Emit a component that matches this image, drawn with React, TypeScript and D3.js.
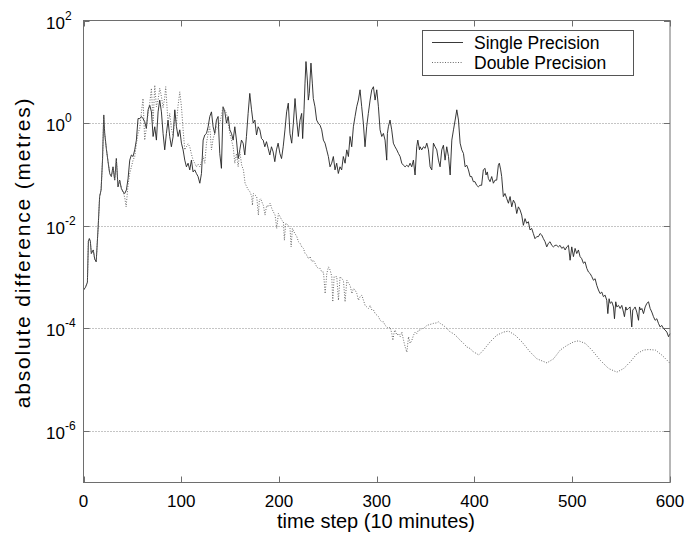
import React from "react";
import * as d3 from "d3";

// x axis ticks (time step, 10 minutes) and y axis decades shown as labels
const xTicks = [0, 100, 200, 300, 400, 500, 600];
const yTickExponents = [2, 0, -2, -4, -6];
const gridExponents = [0, -2, -4, -6];
const seriesNames = ["Single Precision", "Double Precision"];

// [time step, log10(absolute difference in metres)]
const singlePrecision: [number, number][] = [
  [0, -3.25], [2, -3.2], [4, -3.1], [5, -2.3], [6, -2.25], [7, -2.3], [8, -2.54], [10, -2.47], [11.5, -2.65], [13, -2.7],
  [15, -2.02], [16.5, -1.43], [18, -1.3], [19.5, -0.7], [20.7, 0.16], [21.7, -0.2], [23.4, -0.5], [25.1, -0.75], [26.8, -0.98],
  [28.5, -1.04], [30.2, -0.85], [31.9, -1.11], [33.6, -0.69], [35.3, -1.24], [37, -1.11], [38.7, -1.27], [40.5, -1.34],
  [42.2, -1.37], [43.9, -1.3], [45.6, -1.08], [47.3, -0.72], [49, -0.62], [50.7, -0.65], [52.4, -0.52], [54.1, -0.33],
  [55.8, 0.09], [57.5, 0.09], [59.2, 0.13], [60.9, 0.09], [62.6, 0.03], [64.3, -0.1], [66.1, 0.26], [67.8, 0.35], [69.5, 0.22],
  [71.2, -0.26], [72.9, -0.07], [74.6, -0.33], [76.3, 0.22], [78, 0.45], [79.7, 0.22], [81.4, -0.2], [83.1, -0.52], [84.8, -0.2],
  [86.5, 0.06], [88.2, -0.26], [89.9, -0.46], [91.7, -0.26], [93.4, 0.26], [95.1, -0.07], [96.8, -0.26], [98.5, -0.13],
  [100.2, -0.39], [101.9, -0.52], [103.6, -0.72], [105.3, -0.85], [107, -0.78], [108.7, -0.91], [110.4, -0.72], [112.1, -0.95],
  [113.8, -0.91], [115.5, -0.98], [117.2, -1.04], [119, -1.17], [120.7, -0.98], [122.4, -0.33], [124.1, -0.23], [125.8, -0.2],
  [127.5, -0.07], [129.2, 0.13], [130.9, 0.22], [132.6, -0.07], [134.3, -0.2], [136, 0.06], [137.7, 0.13], [139.4, -0.59],
  [141.1, -0.88], [142.8, 0.32], [144.6, 0.22], [146.3, 0], [148, 0.13], [149.7, -0.13], [151.4, -0.2], [153.1, -0.33],
  [154.8, -0.07], [156.5, -0.33], [158.2, -0.69], [159.9, -0.52], [161.6, -0.33], [163.3, -0.39], [165, -0.62], [166.7, -0.26],
  [168.4, 0.19], [170.1, 0.58], [171.9, 0.26], [173.6, 0], [175.3, 0.06], [177, -0.23], [178.7, -0.07], [180.4, -0.13],
  [182.1, -0.3], [183.8, -0.33], [185.5, -0.46], [187.2, -0.36], [188.9, -0.49], [190.6, -0.62], [192.3, -0.46], [194, -0.56],
  [195.7, -0.75], [197.4, -0.52], [199.1, -0.39], [200.9, -0.59], [202.6, -0.69], [204.3, -0.46],
  [206.1, -0.13], [207.8, 0.22], [209.5, 0.39], [211.2, -0.2], [213, -0.39], [214.7, 0.0], [216.4, 0.48], [218.1, 0.06],
  [219.8, -0.26], [221.5, 0.06], [223.2, 0.19], [224.2, -0.3], [225.6, 0.26], [226.6, 0.78], [227.6, 1.2], [229, 0.84],
  [230, 0.45], [231, 0.58], [232.7, 1.17], [234.1, 0.78], [235.1, 0.48], [236.8, 0.32], [238.5, 0.06], [240.2, 0.0],
  [242, -0.04], [243.7, -0.13], [245.4, -0.33], [247.1, -0.39], [248.8, -0.52], [250.5, -0.65], [252.2, -0.85], [253.9, -0.78],
  [255.6, -0.65], [257.3, -0.91], [259, -0.78], [260.7, -0.98], [262.4, -0.85], [264.1, -0.91], [265.8, -0.65], [267.6, -0.78],
  [269.3, -0.52], [271, -0.65], [272.7, -0.26], [274.4, -0.46], [276.1, -0.07], [277.8, 0.13], [279.5, 0.32], [281.2, 0.45],
  [282.9, 0.65], [284.6, 0.32], [286.3, 0.0], [288, -0.46], [289.7, -0.07], [291.4, 0.19], [293.2, 0.45], [294.9, 0.65],
  [296.6, 0.71], [298.3, 0.45], [300, 0.65], [301.7, 0.32], [303.4, -0.13], [305.1, -0.26], [306.8, -0.2], [308.5, -0.33],
  [310.2, -0.72], [310.9, -0.2], [311.9, -0.07], [313.6, 0.06], [315.3, -0.13], [317, -0.39], [318.7, -0.46], [320.5, -0.52],
  [322.2, -0.59], [323.9, -0.65], [325.6, -0.78], [327.3, -0.82], [329, -0.85], [330.7, -0.82], [332.4, -0.85], [334.1, -0.78],
  [335.8, -0.85], [337.5, -0.72], [339.2, -1.01], [340.9, -0.46], [342, -0.33], [343.7, -0.52], [344.3, -0.46], [346, -0.52],
  [347.8, -0.46], [349.5, -0.49], [351.2, -0.39], [352.9, -0.52], [354.6, -0.85], [356.3, -0.91], [358, -0.39], [359.7, -0.46],
  [361.4, -0.52], [363.1, -0.72], [364.8, -0.85], [366.5, -0.52], [368.2, -0.43], [369.9, -0.72], [371.6, -0.46], [373.4, -0.65],
  [375.1, -1.01], [376.8, -0.33], [378.5, -0.13], [380.2, 0.06], [381.9, 0.26], [383.6, 0.06], [385.3, -0.39], [387, -0.52],
  [388.7, -0.59], [390.4, -0.85], [392.1, -0.82], [393.8, -0.91], [395.5, -1.04],
  [397.1, -1.04], [398.8, -1.14], [400.5, -1.14], [402.2, -1.21], [403.9, -1.24], [405.6, -1.21], [407.3, -1.21], [409, -0.91],
  [410.8, -0.88], [411.8, -1.01], [413.1, -0.95], [414.2, -1.08], [415.9, -1.14], [417.6, -1.04], [419.3, -1.17], [421, -1.11],
  [422.7, -1.11], [424.4, -0.82], [425.4, -0.78], [426.8, -0.91], [427.8, -1.04], [429.5, -1.43], [431.2, -1.37], [433, -1.47],
  [434.7, -1.56], [436.4, -1.43], [438.1, -1.63], [439.8, -1.5], [441.5, -1.56], [443.2, -1.76], [444.9, -1.63], [446.6, -1.69],
  [448.3, -1.79], [450, -1.99], [451.7, -1.86], [453.4, -1.95], [455.1, -1.92], [456.8, -2.08], [458.5, -2.05], [460.2, -2.15],
  [461.9, -2.25], [463.7, -2.21], [465.4, -2.21], [467.1, -2.15], [468.8, -2.18], [470.5, -2.25], [472.2, -2.31], [473.9, -2.41],
  [475.6, -2.34], [477.3, -2.31], [479, -2.38], [480.7, -2.41], [482.4, -2.38], [484.1, -2.38], [485.8, -2.41], [487.5, -2.38],
  [489.3, -2.44], [491, -2.41], [492.7, -2.47], [494.4, -2.41], [496.1, -2.38], [497.8, -2.67], [499.5, -2.41], [501.2, -2.6],
  [502.9, -2.44], [504.6, -2.54], [506.3, -2.47], [508, -2.6], [509.7, -2.64], [511.4, -2.73], [513.1, -2.7], [514.9, -2.83],
  [516.6, -2.9], [518.3, -2.93], [520, -2.99], [521.7, -3.06], [523.4, -3.03], [525.1, -3.16], [526.8, -3.25], [528.5, -3.32],
  [530.2, -3.29], [531.9, -3.38], [533.6, -3.35], [535.3, -3.45], [536.4, -3.71], [537.7, -3.42], [538.7, -3.51], [540.5, -3.48],
  [542.2, -3.58], [543.2, -3.81], [544.5, -3.48], [545.6, -3.58], [547.3, -3.55], [549, -3.61], [550.7, -3.55], [552.4, -3.68],
  [553.4, -3.77], [554.8, -3.58], [555.8, -3.64], [557.5, -3.61], [559.2, -3.58], [560.9, -3.97], [561.9, -3.64], [563.3, -3.61],
  [564.3, -3.58], [566, -3.68], [567.8, -3.84], [568.8, -3.58], [570.1, -3.64], [571.2, -3.61], [572.9, -3.71], [574.6, -3.58],
  [576.3, -3.51], [578, -3.48], [579.7, -3.61], [581.4, -3.68], [583.1, -3.77], [584.8, -3.84], [586.5, -3.81], [588.2, -3.9],
  [589.9, -3.97], [591.6, -3.94], [593.3, -4.0], [595, -4.03], [596.8, -4.07], [598.5, -4.16], [600, -4.1],
];

const doublePrecision: [number, number][] = [
  [0, -3.25], [2, -3.2], [4, -3.1], [5, -2.3], [6, -2.25], [7, -2.3], [8, -2.54], [10, -2.47], [11.5, -2.65], [13, -2.7],
  [15, -2.02], [16.5, -1.43], [18, -1.3], [19.5, -0.7], [20.7, 0.16], [21.7, -0.2], [23.4, -0.5], [25.1, -0.75], [26.8, -0.98],
  [28.5, -1.04], [30.2, -0.85], [31.9, -1.11], [33.6, -0.69], [35.3, -1.24], [37, -1.11], [38.7, -1.27], [40.5, -1.34],
  [42.2, -1.45], [43.6, -1.63], [45.6, -1.2], [47.3, -0.98], [49, -0.85], [50.7, -0.72], [52.4, -0.65], [54.1, -0.4],
  [55.8, -0.2], [57.5, -0.1], [59.2, 0.2], [60.9, 0.48], [62.6, -0.33], [64.3, -0.1], [66.1, 0.2], [67.8, 0.4], [69.5, 0.68],
  [71.2, 0.0], [72.9, 0.74], [74.6, 0.32], [76.3, 0.45], [78, 0.68], [79.7, 0.52], [81.4, 0.3], [83.1, 0.5], [84.1, 0.71],
  [86.5, 0.0], [88.2, 0.19], [89.9, -0.1], [91.7, -0.26], [93.4, 0.1], [95.1, 0.0], [96.8, 0.35], [98.5, 0.61], [100.2, 0.32],
  [101.9, -0.13], [103.6, -0.52], [105.3, -0.46], [107, -0.4], [108.7, -0.46], [110.4, -0.6], [112.1, -0.72], [113.8, -0.78],
  [115.5, -0.85], [117.2, -0.8], [119, -0.85], [120.7, -0.75], [122.4, -0.65], [124.1, -0.78], [125.8, -0.39], [127.5, -0.2],
  [129.2, -0.07], [130.9, -0.52], [132.6, -0.3], [134.3, -0.2], [136, -0.07], [137.7, -0.1], [139.4, 0.0], [141.1, 0.15],
  [142.8, 0.32], [144.6, 0.25], [146.3, 0.19], [148, 0.0], [149.7, -0.2], [151.4, -0.33], [153.1, -0.46], [154.8, -0.78],
  [156.5, -0.59], [158.2, -0.85], [159.9, -0.55], [161.8, -0.82], [163.6, -0.91], [165.3, -1.17], [167, -1.24], [168.7, -1.3],
  [170.4, -1.34], [172.1, -1.43], [172.8, -1.6], [173.8, -1.37], [175.5, -1.4], [177.2, -1.43], [178.9, -1.79], [179.9, -1.5],
  [181.3, -1.47], [183, -1.56], [184, -1.6], [185.7, -1.79], [187.4, -1.6], [189.1, -1.63], [190.9, -1.56], [192.6, -1.66],
  [194.3, -1.73], [196, -1.79], [197.7, -2.05], [199.4, -1.76], [201.1, -1.82], [202.8, -1.89], [204.5, -1.92], [205.5, -2.28],
  [206.9, -1.95], [209.6, -1.99], [211.3, -2.05], [212.4, -2.41], [213.7, -2.05], [215.4, -2.12], [218.2, -2.21], [219.9, -2.31],
  [221.6, -2.34], [223.3, -2.41], [225, -2.44], [226.7, -2.54], [228.4, -2.57], [230.1, -2.64], [231.8, -2.6], [233.5, -2.7],
  [235.2, -2.67], [236.9, -2.73], [238.6, -2.8], [240.3, -2.83], [242.1, -2.83], [243.8, -2.9], [245.5, -2.9], [247.2, -3.32],
  [248.9, -2.93], [250.6, -2.8], [252.3, -2.86], [254, -2.99], [255, -3.48], [256.4, -2.99], [259.1, -2.99], [260.8, -3.45],
  [262.5, -2.99], [264.2, -3.03], [265.9, -3.06], [267.6, -3.48], [269.4, -3.06], [271.1, -3.12], [272.8, -3.16], [274.5, -3.32],
  [276.2, -3.22], [277.9, -3.25], [279.6, -3.32], [281.3, -3.45], [283, -3.38], [284.7, -3.35], [286.4, -3.45], [288.1, -3.55],
  [289.8, -3.58], [291.5, -3.61], [293.2, -3.55], [295, -3.64], [296.7, -3.64], [298.4, -3.71], [300.1, -3.74], [301.8, -3.77],
  [303.5, -3.84], [305.2, -3.87], [306.9, -3.87], [308.6, -3.94], [310.3, -3.97], [312, -4.0], [313.7, -3.97], [315.4, -4.1],
  [316.5, -4.23], [317.8, -4.07], [318.8, -4.03], [320.5, -4.13], [322.3, -4.1], [324, -4.16], [325.7, -4.07], [327.4, -4.23],
  [329.1, -4.36], [330.8, -4.46], [332.5, -4.16], [334.2, -4.29], [335.9, -4.23], [337.6, -4.13], [339.3, -4.07], [341, -4.1],
  [342.7, -4.03], [344.4, -4.03], [346.1, -4.0], [347.8, -4.0], [349.6, -3.97], [351.3, -3.94], [354.7, -3.92], [358.1, -3.9],
  [361.5, -3.89], [363.2, -3.87], [364.9, -3.9], [368.3, -3.94], [371.7, -4.0], [375.2, -4.07], [378.6, -4.1], [382, -4.16],
  [385.4, -4.23], [388.8, -4.29], [392.2, -4.36], [395.6, -4.39], [399.1, -4.46], [402.5, -4.49], [404.1, -4.52], [409.2, -4.42],
  [416, -4.26], [422.9, -4.13], [429.7, -4.07], [434.8, -4.05], [441.6, -4.13], [448.5, -4.26], [457, -4.46], [463.8, -4.59],
  [474.1, -4.67], [480.9, -4.59], [487.7, -4.42], [494.5, -4.33], [501.4, -4.26], [506.5, -4.24], [513.3, -4.29], [520.1, -4.42],
  [528.7, -4.62], [537.2, -4.78], [545.7, -4.85], [552.6, -4.78], [559.4, -4.65], [566.2, -4.49], [573, -4.42], [578.2, -4.41],
  [585, -4.42], [591.8, -4.52], [598.6, -4.65], [600, -4.68],
];

const FONT = "Arial, 'Liberation Sans', Helvetica, sans-serif";

export default function App() {
  const W = 688;
  const H = 541;
  const plot = { left: 83.5, right: 670, top: 20.5, bottom: 482.5 };
  const x = d3.scaleLinear().domain([0, 600]).range([plot.left, plot.right]);
  const y = d3.scaleLog().domain([1e-7, 1e2]).range([plot.bottom, plot.top]);
  const line = d3
    .line<[number, number]>()
    .x((d) => x(d[0]))
    .y((d) => y(Math.pow(10, d[1])));

  const tickLen = 6;
  const frame = "#6e6e6e";

  return (
    <svg
      width={W}
      height={H}
      viewBox={`0 0 ${W} ${H}`}
      style={{ position: "absolute", left: 0, top: 0, background: "#fff" }}
      fontFamily={FONT}
    >
      <rect x={0} y={0} width={W} height={H} fill="#fff" />
      {/* grid */}
      {gridExponents.map((e) => (
        <line
          key={"g" + e}
          x1={plot.left}
          x2={plot.right}
          y1={Math.round(y(Math.pow(10, e))) + 0.5}
          y2={Math.round(y(Math.pow(10, e))) + 0.5}
          stroke="#8a8a8a"
          strokeWidth={1}
          strokeDasharray="1,2"
        />
      ))}
      {/* data */}
      <path d={line(singlePrecision) || ""} fill="none" stroke="#222" strokeWidth={0.9} strokeLinejoin="round" />
      <path d={line(doublePrecision) || ""} fill="none" stroke="#6a6a6a" strokeWidth={1} strokeDasharray="1,1.6" />
      {/* frame */}
      <rect
        x={plot.left}
        y={plot.top}
        width={plot.right - plot.left}
        height={plot.bottom - plot.top}
        fill="none"
        stroke={frame}
        strokeWidth={1}
      />
      {/* x ticks */}
      {xTicks.map((t) => {
        const px = Math.round(x(t)) + 0.5;
        return (
          <g key={"x" + t}>
            <line x1={px} x2={px} y1={plot.bottom} y2={plot.bottom - tickLen} stroke={frame} />
            <line x1={px} x2={px} y1={plot.top} y2={plot.top + tickLen} stroke={frame} />
            <text x={x(t)} y={507} fontSize={17} textAnchor="middle" fill="#000">
              {t}
            </text>
          </g>
        );
      })}
      {/* y ticks */}
      {yTickExponents.map((e) => {
        const py = Math.round(y(Math.pow(10, e))) + 0.5;
        return (
          <g key={"y" + e}>
            <line x1={plot.left} x2={plot.left + tickLen} y1={py} y2={py} stroke={frame} />
            <line x1={plot.right} x2={plot.right - tickLen} y1={py} y2={py} stroke={frame} />
            <text x={46} y={py + 7} fontSize={17} fill="#000">
              <tspan>10</tspan>
              <tspan dy={-9} fontSize={12}>
                {e < 0 ? "-" + Math.abs(e) : String(e)}
              </tspan>
            </text>
          </g>
        );
      })}
      {/* axis titles */}
      <text x={376} y={528} fontSize={20} textAnchor="middle" fill="#000">
        time step (10 minutes)
      </text>
      <text
        transform={`translate(30, 252.5) rotate(-90)`}
        fontSize={21}
        letterSpacing={1.8}
        textAnchor="middle"
        fill="#000"
      >
        absolute difference (metres)
      </text>
      {/* legend */}
      <rect x={422.5} y={30.5} width={211} height={45} fill="#fff" stroke="#555" strokeWidth={1} />
      <line x1={432} x2={463} y1={42.5} y2={42.5} stroke="#222" strokeWidth={0.9} />
      <line x1={432} x2={463} y1={62.5} y2={62.5} stroke="#6a6a6a" strokeWidth={1} strokeDasharray="1,1.6" />
      <text x={474} y={49} fontSize={17.5} fill="#000">
        {seriesNames[0]}
      </text>
      <text x={474} y={69} fontSize={17.5} fill="#000">
        {seriesNames[1]}
      </text>
    </svg>
  );
}
